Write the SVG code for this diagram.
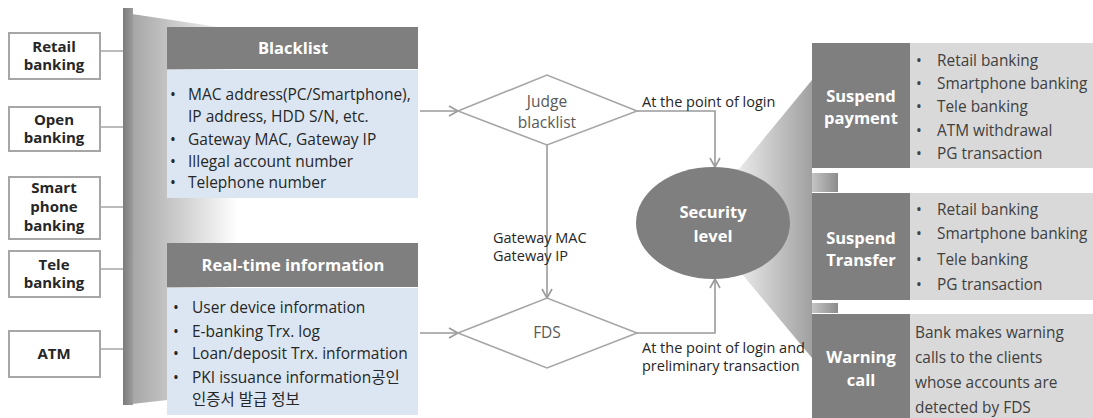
<svg xmlns="http://www.w3.org/2000/svg" width="1093" height="418" viewBox="0 0 1093 418">
  <style>
    text { font-family: "Open Sans", "Noto Sans CJK KR", sans-serif; }
    .ch-box { fill: #ffffff; stroke: #a6a6a6; stroke-width: 2; }
    .ch-txt { font-size: 15px; font-weight: bold; fill: #262626; text-anchor: middle; }
    .tie { stroke: #a6a6a6; stroke-width: 1.5; fill: none; }
    .hdr { fill: #7f7f7f; }
    .hdr-txt { font-size: 16.5px; font-weight: bold; fill: #ffffff; text-anchor: middle; }
    .body { fill: #dce6f2; }
    .item { font-size: 15.5px; fill: #262626; }
    .dia { fill: #ffffff; stroke: #a6a6a6; stroke-width: 1.6; }
    .dia-txt { font-size: 15.5px; fill: #595959; text-anchor: middle; }
    .flow { stroke: #9a9a9a; stroke-width: 1.6; fill: none; }
    .lbl { font-size: 14.5px; fill: #262626; }
    .act { fill: #7f7f7f; }
    .act-txt { font-size: 16.5px; font-weight: bold; fill: #ffffff; text-anchor: middle; }
    .lst { fill: #d9d9d9; }
    .lst-txt { font-size: 15.4px; fill: #404040; }
  </style>
  <defs>
    <linearGradient id="barGrad" x1="0" y1="0" x2="1" y2="0">
      <stop offset="0" stop-color="#7c7c7c"/>
      <stop offset="1" stop-color="#9c9c9c"/>
    </linearGradient>
    <linearGradient id="panelGrad" gradientUnits="userSpaceOnUse" x1="132" y1="0" x2="238" y2="0">
      <stop offset="0" stop-color="#a6a6a6"/>
      <stop offset="1" stop-color="#ffffff"/>
    </linearGradient>
    <linearGradient id="coneGrad" gradientUnits="userSpaceOnUse" x1="730" y1="0" x2="812" y2="0">
      <stop offset="0" stop-color="#f2f2f2"/>
      <stop offset="1" stop-color="#a0a0a0"/>
    </linearGradient>
    <linearGradient id="tabGrad" x1="0" y1="0" x2="1" y2="0">
      <stop offset="0" stop-color="#c4c4c4"/>
      <stop offset="1" stop-color="#8c8c8c"/>
    </linearGradient>
    <marker id="chev" markerUnits="userSpaceOnUse" markerWidth="14" markerHeight="14" refX="10" refY="6" orient="auto">
      <path d="M1,1 L10,6 L1,11" fill="none" stroke="#9a9a9a" stroke-width="1.6"/>
    </marker>
  </defs>

  <!-- channel backbone -->
  <g id="backbone">
    <polygon points="132,14 238,30 238,392 132,404" fill="url(#panelGrad)"/>
    <rect x="123" y="8" width="10" height="397" fill="url(#barGrad)"/>
  </g>

  <!-- channel ties -->
  <g id="ties">
    <line class="tie" x1="100" y1="51" x2="123" y2="51"/>
    <line class="tie" x1="100" y1="127" x2="123" y2="127"/>
    <line class="tie" x1="100" y1="207" x2="123" y2="207"/>
    <line class="tie" x1="100" y1="269" x2="123" y2="269"/>
    <line class="tie" x1="100" y1="349" x2="123" y2="349"/>
  </g>

  <!-- channels -->
  <g id="ch-retail">
    <rect class="ch-box" x="9" y="33" width="91" height="46"/>
    <text class="ch-txt" x="54" y="52">Retail</text>
    <text class="ch-txt" x="54" y="70">banking</text>
  </g>
  <g id="ch-open">
    <rect class="ch-box" x="9" y="107" width="91" height="44"/>
    <text class="ch-txt" x="54" y="125">Open</text>
    <text class="ch-txt" x="54" y="143">banking</text>
  </g>
  <g id="ch-smart">
    <rect class="ch-box" x="9" y="177" width="91" height="62"/>
    <text class="ch-txt" x="54" y="193">Smart</text>
    <text class="ch-txt" x="54" y="212">phone</text>
    <text class="ch-txt" x="54" y="231">banking</text>
  </g>
  <g id="ch-tele">
    <rect class="ch-box" x="9" y="251" width="91" height="46"/>
    <text class="ch-txt" x="54" y="270">Tele</text>
    <text class="ch-txt" x="54" y="288">banking</text>
  </g>
  <g id="ch-atm">
    <rect class="ch-box" x="9" y="331" width="91" height="46"/>
    <text class="ch-txt" x="54" y="359">ATM</text>
  </g>

  <!-- blacklist -->
  <g id="blacklist">
    <rect class="hdr" x="167" y="27" width="251" height="42"/>
    <text class="hdr-txt" x="293" y="54">Blacklist</text>
    <rect class="body" x="167" y="70" width="251" height="128"/>
    <text class="item" x="170" y="100">•</text><text class="item" x="188" y="100">MAC address(PC/Smartphone),</text>
    <text class="item" x="188" y="122">IP address, HDD S/N, etc.</text>
    <text class="item" x="170" y="145">•</text><text class="item" x="188" y="145">Gateway MAC, Gateway IP</text>
    <text class="item" x="170" y="167">•</text><text class="item" x="188" y="167">Illegal account number</text>
    <text class="item" x="170" y="188">•</text><text class="item" x="188" y="188">Telephone number</text>
  </g>

  <!-- real-time information -->
  <g id="realtime">
    <rect class="hdr" x="167" y="243" width="251" height="44"/>
    <text class="hdr-txt" x="293" y="271">Real-time information</text>
    <rect class="body" x="167" y="288" width="251" height="127"/>
    <text class="item" x="173" y="313">•</text><text class="item" x="192" y="313">User device information</text>
    <text class="item" x="173" y="337">•</text><text class="item" x="192" y="337">E-banking Trx. log</text>
    <text class="item" x="173" y="359">•</text><text class="item" x="192" y="359">Loan/deposit Trx. information</text>
    <text class="item" x="173" y="383">•</text><text class="item" x="192" y="383">PKI issuance information공인</text>
    <text class="item" x="192" y="405">인증서 발급 정보</text>
  </g>

  <!-- cone from security level to actions -->
  <g id="cone">
    <polygon points="697,220 812,80 812,358" fill="url(#coneGrad)"/>
    <rect x="812" y="173" width="26" height="19" fill="url(#tabGrad)"/>
    <rect x="812" y="303" width="26" height="10" fill="url(#tabGrad)"/>
  </g>

  <!-- connectors -->
  <g id="connectors">
    <line class="flow" x1="420" y1="111" x2="458" y2="111" marker-end="url(#chev)"/>
    <line class="flow" x1="420" y1="333" x2="458" y2="333" marker-end="url(#chev)"/>
    <line class="flow" x1="547" y1="145" x2="547" y2="298" marker-end="url(#chev)"/>
    <polyline class="flow" points="637,111 715,111 715,167" marker-end="url(#chev)"/>
    <polyline class="flow" points="637,333 715,333 715,279" marker-end="url(#chev)"/>
    <text class="lbl" x="493" y="243">Gateway MAC</text>
    <text class="lbl" x="493" y="261">Gateway IP</text>
    <text class="lbl" x="642" y="107">At the point of login</text>
    <text class="lbl" x="642" y="353">At the point of login and</text>
    <text class="lbl" x="642" y="371">preliminary transaction</text>
  </g>

  <!-- decisions -->
  <g id="judge-blacklist">
    <polygon class="dia" points="458,111 547,75 637,111 547,145"/>
    <text class="dia-txt" x="547" y="107">Judge</text>
    <text class="dia-txt" x="547" y="128">blacklist</text>
  </g>
  <g id="fds">
    <polygon class="dia" points="458,333 547,298 637,333 547,368"/>
    <text class="dia-txt" x="547" y="338">FDS</text>
  </g>

  <!-- security level -->
  <g id="security-level">
    <ellipse cx="713" cy="223" rx="77" ry="56" fill="#7f7f7f"/>
    <text class="act-txt" x="713" y="218" font-size="19">Security</text>
    <text class="act-txt" x="713" y="242" font-size="19">level</text>
  </g>

  <!-- actions -->
  <g id="suspend-payment">
    <rect class="act" x="812" y="43" width="98" height="125"/>
    <text class="act-txt" x="861" y="102">Suspend</text>
    <text class="act-txt" x="861" y="124">payment</text>
    <rect class="lst" x="910" y="43" width="183" height="125"/>
    <text class="lst-txt" x="916" y="66">•</text><text class="lst-txt" x="937" y="66">Retail banking</text>
    <text class="lst-txt" x="916" y="89">•</text><text class="lst-txt" x="937" y="89">Smartphone banking</text>
    <text class="lst-txt" x="916" y="112">•</text><text class="lst-txt" x="937" y="112">Tele banking</text>
    <text class="lst-txt" x="916" y="136">•</text><text class="lst-txt" x="937" y="136">ATM withdrawal</text>
    <text class="lst-txt" x="916" y="159">•</text><text class="lst-txt" x="937" y="159">PG transaction</text>
  </g>
  <g id="suspend-transfer">
    <rect class="act" x="812" y="193" width="98" height="107"/>
    <text class="act-txt" x="861" y="244">Suspend</text>
    <text class="act-txt" x="861" y="266">Transfer</text>
    <rect class="lst" x="910" y="193" width="183" height="107"/>
    <text class="lst-txt" x="916" y="215">•</text><text class="lst-txt" x="937" y="215">Retail banking</text>
    <text class="lst-txt" x="916" y="239">•</text><text class="lst-txt" x="937" y="239">Smartphone banking</text>
    <text class="lst-txt" x="916" y="265">•</text><text class="lst-txt" x="937" y="265">Tele banking</text>
    <text class="lst-txt" x="916" y="290">•</text><text class="lst-txt" x="937" y="290">PG transaction</text>
  </g>
  <g id="warning-call">
    <rect class="act" x="812" y="314" width="98" height="104"/>
    <text class="act-txt" x="861" y="363">Warning</text>
    <text class="act-txt" x="861" y="386">call</text>
    <rect class="lst" x="910" y="314" width="183" height="104"/>
    <text class="lst-txt" x="915" y="338">Bank makes warning</text>
    <text class="lst-txt" x="915" y="363">calls to the clients</text>
    <text class="lst-txt" x="915" y="388">whose accounts are</text>
    <text class="lst-txt" x="915" y="413">detected by FDS</text>
  </g>
</svg>
